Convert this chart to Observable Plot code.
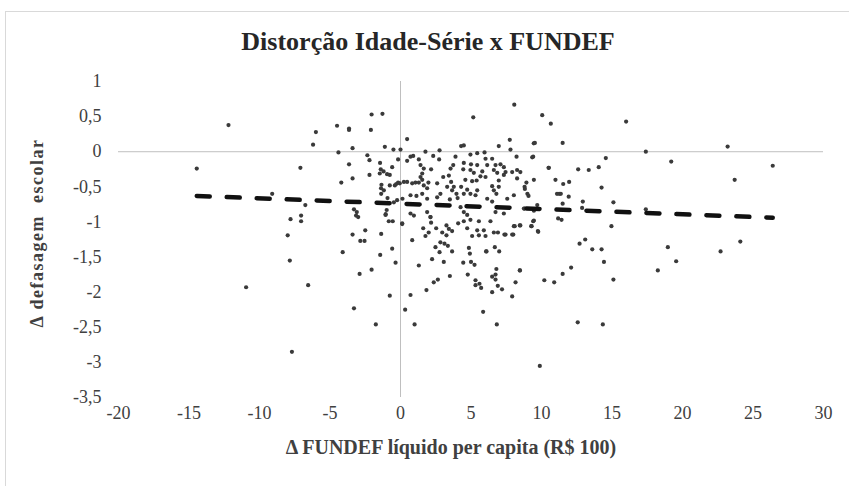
<!DOCTYPE html>
<html><head><meta charset="utf-8">
<script src="https://cdn.jsdelivr.net/npm/d3@7"></script>
<script src="https://cdn.jsdelivr.net/npm/@observablehq/plot@0.6"></script>
<style>
body{margin:0;background:#fff;}
#wrap{position:relative;width:849px;height:486px;overflow:hidden;background:#fff;font-family:"Liberation Serif",serif;}
#frame{position:absolute;left:5px;top:11px;width:900px;height:600px;border:1px solid #d9d9d9;box-sizing:border-box;}
#title{position:absolute;left:428px;top:42px;transform:translate(-50%,-50%);white-space:nowrap;font-weight:bold;font-size:26px;color:#262626;}
#xlabel{position:absolute;left:451px;top:447px;transform:translate(-50%,-50%);white-space:nowrap;font-weight:bold;font-size:20px;color:#404040;}
#ylabel{position:absolute;left:37px;top:233px;transform:translate(-50%,-50%) rotate(-90deg);white-space:nowrap;font-weight:bold;font-size:18px;letter-spacing:1.5px;color:#404040;}
#chart{position:absolute;left:0;top:0;}
</style></head>
<body>
<div id="wrap">
  <div id="frame"></div>
  <div id="chart"></div>
  <div id="title">Distorção Idade-Série x FUNDEF</div>
  <div id="xlabel">Δ FUNDEF líquido per capita (R$ 100)</div>
  <div id="ylabel">Δ defasagem&nbsp;&nbsp;escolar</div>
</div>
<script>
const xTicks = [-20, -15, -10, -5, 0, 5, 10, 15, 20, 25, 30];
const yTicks = [1, 0.5, 0, -0.5, -1, -1.5, -2, -2.5, -3, -3.5];
// trend line (linear fit) endpoints
const trendX = [-14.45, 26.4];
const trendY = [-0.63, -0.94];
// [Δ FUNDEF líquido per capita, Δ defasagem escolar]
const scatterPoints = [
[-14.45,-0.24],[-12.2,0.38],[-10.95,-1.93],[-9.1,-0.6],[-8.0,-1.19],[-7.85,-1.55],[-7.7,-2.85],[-7.8,-0.96],[-7.1,-0.23],[-7.05,-0.91],[-7.05,-0.99],[-6.75,-0.76],[-6.55,-1.9],[-6.2,0.1],[-6.0,0.28],[-4.5,0.37],[-4.4,-0.01],[-4.2,-0.44],[-4.1,-1.43],[-3.65,0.33],[-3.65,0.31],[-3.65,-0.18],[-3.4,0.05],[-3.4,-0.38],[-3.3,-0.82],[-3.1,-0.86],[-3.15,-0.91],[-3.0,-0.93],[-3.4,-1.18],[-3.3,-2.23],[-2.85,-1.27],[-2.55,-1.27],[-2.9,-1.74],[-2.5,-1.12],[-2.35,-0.05],[-2.2,-0.12],[-2.2,-0.33],[-2.1,0.31],[-2.05,0.53],[-2.05,-1.68],[-1.75,-2.46],[-1.45,-0.16],[-1.4,-0.25],[-1.2,-0.28],[-1.47,-0.31],[-0.95,-0.32],[-0.76,-0.33],[-1.35,-0.47],[-1.38,-0.52],[-0.76,-0.48],[-0.4,-0.48],[-0.17,-0.44],[-0.92,-0.66],[-1.05,-0.89],[-0.98,-0.83],[-0.83,-0.99],[-0.55,-0.99],[0.12,-1.03],[-1.37,-1.17],[-1.44,-1.47],[-0.59,-1.38],[-0.35,-1.58],[-0.76,-2.05],[-1.28,0.54],[-1.11,0.07],[-0.5,0.03],[0,0.03],[0.47,0.18],[-0.59,-0.22],[-0.17,-0.11],[-1.18,-0.55],[-1.37,-0.6],[-0.47,-0.72],[-0.24,-0.69],[-0.3,-0.46],[-0.05,-0.45],
[0.71,-0.07],[0.9,-0.06],[0.47,-0.13],[1.3,-0.11],[1.77,0.0],[2.32,-0.06],[2.77,0.02],[2.74,-0.11],[1.42,-0.19],[1.65,-0.24],[2.17,-0.25],[1.54,-0.31],[1.42,-0.36],[0.47,-0.43],[0.24,-0.43],[0.83,-0.45],[1.06,-0.44],[1.3,-0.44],[1.65,-0.48],[1.98,-0.44],[1.54,-0.4],[1.89,-0.52],[0.71,-0.62],[1.13,-0.63],[1.54,-0.6],[1.89,-0.67],[0.71,-0.88],[1.89,-0.86],[2.12,-0.93],[2.6,-0.45],[3.03,-0.36],[2.6,-0.65],[2.83,-0.6],[3.31,-0.5],[3.43,-0.34],[3.55,-0.24],[3.74,-0.19],[3.9,-0.07],[3.59,-0.43],[3.78,-0.5],[3.97,-0.6],[3.66,-0.55],[4.05,-0.66],[3.5,-0.68],[0.14,-0.67],
[4.3,0.08],[4.96,-0.04],[5.44,-0.02],[5.96,-0.01],[6.97,0.08],[7.8,0.03],[9.45,0.12],[8.23,-0.07],[9.41,-0.07],[10.5,-0.23],[4.49,-0.16],[5.0,-0.18],[5.44,-0.19],[6.03,-0.1],[6.5,-0.1],[6.74,-0.19],[6.15,-0.19],[7.09,-0.18],[7.33,-0.22],[4.45,-0.25],[4.96,-0.26],[6.62,-0.26],[6.86,-0.3],[7.45,-0.29],[7.92,-0.29],[8.27,-0.26],[8.5,-0.29],[5.67,-0.35],[6.03,-0.36],[4.6,-0.4],[5.08,-0.42],[5.4,-0.41],[7.33,-0.33],[6.97,-0.41],[8.27,-0.38],[8.93,-0.44],[8.8,-0.5],[4.3,-0.5],[4.73,-0.54],[4.49,-0.6],[4.96,-0.6],[5.44,-0.55],[5.32,-0.62],[6.5,-0.49],[6.62,-0.55],[6.97,-0.5],[6.8,-0.6],[6.15,-0.67],[6.5,-0.71],[7.57,-0.67],[8.04,-0.62],[9.0,-0.6],[8.8,-0.81],[9.7,-0.76],[11.1,-0.6],[6.74,-0.86],[7.33,-0.88],[4.26,-0.79],[4.49,-0.86],[4.73,-0.9],[5.8,-0.28],[5.2,-0.3],[7.75,0.17],[8.07,0.67],[5.16,0.49],[4.49,0.09],
[-1.06,-0.9],[0.12,-1.02],[0.95,-0.91],[2.13,-0.93],[2.17,-1.01],[1.61,-1.09],[2.0,-1.15],[1.77,-1.2],[2.53,-1.09],[2.96,-1.15],[3.26,-1.05],[3.43,-1.1],[3.66,-1.13],[3.26,-1.19],[4.09,-1.02],[2.48,-1.36],[2.83,-1.29],[3.12,-1.31],[3.36,-1.34],[2.77,-1.43],[3.66,-1.42],[2.24,-1.53],[3.07,-1.57],[3.5,-1.77],[1.3,-1.62],[2.65,-1.82],[2.36,-1.86],[1.84,-1.97],[0.83,-1.26],[0.71,-2.04],[0.33,-2.25],[1.0,-2.46],
[4.49,-0.99],[4.96,-0.97],[5.56,-0.99],[6.38,-0.99],[4.73,-1.09],[5.44,-1.12],[5.91,-1.12],[6.62,-1.15],[6.91,-1.15],[7.37,-1.18],[7.92,-1.18],[5.08,-1.2],[5.56,-1.19],[6.03,-1.2],[8.04,-1.06],[8.46,-1.05],[9.27,-1.06],[9.41,-0.99],[9.74,-1.13],[4.85,-1.37],[4.92,-1.45],[6.1,-1.42],[6.69,-1.36],[7.0,-1.42],[4.45,-1.58],[5.0,-1.57],[5.25,-1.61],[4.77,-1.75],[5.32,-1.83],[5.6,-1.88],[5.72,-1.94],[5.32,-1.9],[6.5,-1.78],[6.74,-1.75],[6.8,-1.67],[6.74,-1.82],[6.9,-1.91],[7.2,-1.96],[6.5,-2.0],[8.46,-1.69],[8.16,-1.86],[10.2,-1.83],[10.9,-1.86],[7.92,-2.06],[5.86,-2.28],[6.83,-2.46],[9.88,-3.05],
[11.5,0.125],[12.6,-0.25],[13.35,-0.26],[14.06,-0.22],[14.56,-0.09],[14.26,-0.51],[15.1,-0.72],[14.96,-1.06],[12.93,-0.71],[12.88,-0.8],[11.96,-0.43],[11.54,-0.46],[10.99,-0.4],[10.52,-0.23],[11.25,-0.6],[11.37,-0.6],[11.93,-0.64],[11.5,-0.74],[11.18,-0.95],[11.42,-0.97],[10.66,0.4],[10.05,0.52],[9.53,0.125],[9.34,-0.08],[9.46,-0.4],[8.75,-0.81],[9.46,-0.84],[9.46,-0.98],[9.3,-1.06],[9.77,-1.14],[8.5,-1.05],[8.1,-1.06],[9.08,-0.63],[8.82,-0.53],[16.0,0.43],[17.4,0.0],[17.4,-0.82],[19.2,-0.14],[18.96,-1.36],[12.7,-1.31],[13.1,-1.25],[13.6,-1.39],[14.26,-1.39],[14.43,-1.57],[15.1,-1.82],[12.1,-1.65],[11.5,-1.74],[12.57,-2.43],[14.35,-2.46],[19.55,-1.56],[18.25,-1.69],[8.47,-1.69],[23.2,0.074],[26.4,-0.2],[23.7,-0.4],[22.7,-1.42],[24.1,-1.28],[8.0,-1.18],[7.45,-1.18],[6.07,-1.42]
];

const fmt = d => String(d).replace(".", ",");
const trend = trendX.map((x, i) => ({x, y: trendY[i]}));

const chart = Plot.plot({
  width: 849, height: 486,
  marginLeft: 118, marginRight: 26, marginTop: 81, marginBottom: 89,
  x: {domain: [-20, 30]},
  y: {domain: [-3.5, 1]},
  style: {background: "transparent", fontFamily: "'Liberation Serif', serif", fontSize: "18px", color: "#404040"},
  marks: [
    Plot.ruleX([0], {y1: -3.5, y2: 1, stroke: "#bfbfbf", strokeWidth: 1}),
    Plot.ruleY([0], {x1: -20, x2: 30, stroke: "#bfbfbf", strokeWidth: 1}),
    Plot.axisX({ticks: xTicks, tickSize: 0, tickPadding: 9, tickFormat: fmt, label: null}),
    Plot.axisY({ticks: yTicks, tickSize: 0, tickPadding: 17, tickFormat: fmt, label: null}),
    Plot.dot(scatterPoints, {x: d => d[0], y: d => d[1], r: 2.1, fill: "#3a3a3a", stroke: "none"}),
    Plot.line(trend, {x: "x", y: "y", stroke: "#111", strokeWidth: 4.5, strokeDasharray: "13,17", strokeLinecap: "round"})
  ]
});
document.getElementById("chart").appendChild(chart);
</script>
</body></html>
